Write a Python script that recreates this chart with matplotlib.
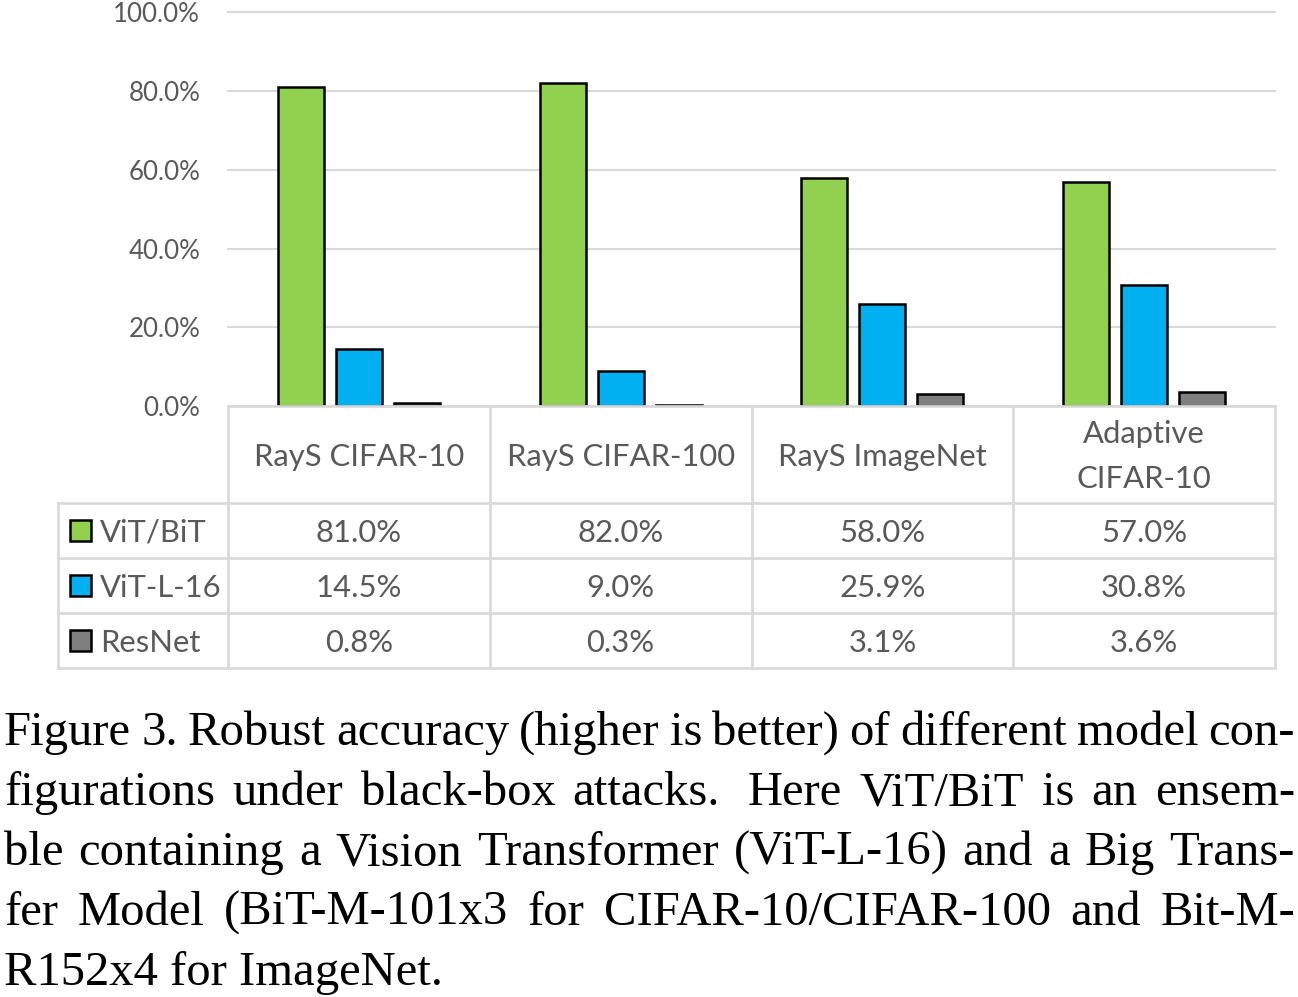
import matplotlib
matplotlib.use("Agg")
import matplotlib.pyplot as plt
from matplotlib.patches import Rectangle
import numpy as np

# ---------------- data ----------------
categories = ["RayS CIFAR-10", "RayS CIFAR-100", "RayS ImageNet", "Adaptive\nCIFAR-10"]
series_names = ["ViT/BiT", "ViT-L-16", "ResNet"]
vit_bit = [81.0, 82.0, 58.0, 57.0]
vit_l16 = [14.5, 9.0, 25.9, 30.8]
resnet = [0.8, 0.3, 3.1, 3.6]
series_values = [vit_bit, vit_l16, resnet]
series_colors = ["#92D050", "#00B0F0", "#7F7F7F"]
yticks = [0, 20, 40, 60, 80, 100]
ytick_labels = ["%.1f%%" % v for v in yticks]
caption_lines = [
    "Figure 3. Robust accuracy (higher is better) of different model con-",
    "figurations under black-box attacks.  Here ViT/BiT is an ensem-",
    "ble containing a Vision Transformer (ViT-L-16) and a Big Trans-",
    "fer Model (BiT-M-101x3 for CIFAR-10/CIFAR-100 and Bit-M-",
    "R152x4 for ImageNet.",
]

# ---------------- layout ----------------
W, H = 1298, 997
fig = plt.figure(figsize=(W / 100, H / 100), dpi=100)
fig.patch.set_facecolor("white")
SANS = ["Lato", "DejaVu Sans"]
SERIF = ["Liberation Serif", "DejaVu Serif"]
TXT = "#595959"
GRID = "#D9D9D9"

renderer = fig.canvas.get_renderer()


def width_px(s, size, family):
    t = fig.text(0, 0, s, fontsize=size, family=family)
    w = t.get_window_extent(renderer).width
    t.remove()
    return w


tick_fs = 20 * 87 / width_px("100.0%", 20, SANS)
table_fs = 20 * 210 / width_px("RayS CIFAR-10", 20, SANS)
cap_fs = 35

def fx(x):
    return x / W


def fy(y):
    return 1 - y / H


left, right, top, bottom = 228, 1275, 12.5, 406
ax = fig.add_axes([fx(left), fy(bottom), (right - left) / W, (bottom - top) / H])
ax.set_xlim(-0.5, len(categories) - 0.5)
ax.set_ylim(0, 100)
x = np.arange(len(categories))
offsets = [-0.2216, 0.0, 0.2216]
for vals, off, col in zip(series_values, offsets, series_colors):
    ax.bar(x + off, vals, width=0.176, color=col, edgecolor="black",
           linewidth=1.8, zorder=3)
ax.set_yticks(yticks)
ax.set_yticklabels(ytick_labels, fontsize=tick_fs, family=SANS, color=TXT)
for lab in ax.get_yticklabels():
    lab.set_va("center_baseline")
ax.tick_params(axis="y", length=0, pad=20)
ax.set_xticks([])
ax.yaxis.grid(True, color=GRID, linewidth=1.5)
for gl in ax.get_ygridlines():
    gl.set_clip_on(False)
ax.set_axisbelow(True)
for s in ax.spines.values():
    s.set_visible(False)

# ---------------- data table ----------------
tab = fig.add_axes([0, 0, 1, 1], zorder=5)
tab.set_xlim(0, W)
tab.set_ylim(H, 0)
tab.axis("off")
tab.patch.set_alpha(0)

fig.canvas.draw()
col_edges = [ax.transData.transform((i - 0.5, 0))[0] for i in range(len(categories) + 1)]
col_centers = [ax.transData.transform((i, 0))[0] for i in range(len(categories))]
leg_left = 58
row_edges = [406, 503, 558, 613, 668]
lw_t = 1.95
# horizontal lines
tab.plot([col_edges[0], col_edges[-1]], [row_edges[0]] * 2, color=GRID, lw=lw_t, solid_capstyle="projecting")
for ry in row_edges[1:]:
    tab.plot([leg_left, col_edges[-1]], [ry, ry], color=GRID, lw=lw_t, solid_capstyle="projecting")
# vertical lines
for cx in col_edges:
    tab.plot([cx, cx], [row_edges[0], row_edges[-1]], color=GRID, lw=lw_t, solid_capstyle="projecting")
tab.plot([leg_left, leg_left], [row_edges[1], row_edges[-1]], color=GRID, lw=lw_t, solid_capstyle="projecting")

# header
for cx, cat in zip(col_centers, categories):
    if "\n" in cat:
        l1, l2 = cat.split("\n")
        tab.text(cx, 443, l1, ha="center", va="baseline", fontsize=table_fs, family=SANS, color=TXT)
        tab.text(cx, 488, l2, ha="center", va="baseline", fontsize=table_fs, family=SANS, color=TXT)
    else:
        tab.text(cx, 466, cat, ha="center", va="baseline", fontsize=table_fs, family=SANS, color=TXT)

# rows
for r, (name, vals, col) in enumerate(zip(series_names, series_values, series_colors)):
    yc = (row_edges[r + 1] + row_edges[r + 2]) / 2
    tab.add_patch(Rectangle((70, yc - 11), 21, 21, facecolor=col, edgecolor="black", lw=1.8))
    tab.text(100, yc + 11, name, ha="left", va="baseline", fontsize=table_fs, family=SANS, color=TXT)
    for cx, v in zip(col_centers, vals):
        tab.text(cx, yc + 11, "%.1f%%" % v, ha="center", va="baseline", fontsize=table_fs, family=SANS, color=TXT)

# ---------------- caption (justified) ----------------
cap_left, cap_right = 4, 1295
baselines = [745, 805, 865, 925, 985]
for i, (line, by) in enumerate(zip(caption_lines, baselines)):
    if i == len(caption_lines) - 1:
        tab.text(cap_left, by, line, ha="left", va="baseline", fontsize=cap_fs, family=SERIF, color="black")
        continue
    parts = line.split(" ")
    words, weights = [], []
    for p in parts:
        if p == "":
            weights[-1] += 0.6
            continue
        words.append(p)
        weights.append(1.0)
    weights = weights[:-1]
    widths = [width_px(w, cap_fs, SERIF) for w in words]
    gap_unit = (cap_right - cap_left - sum(widths)) / sum(weights)
    xpos = cap_left
    for j, (w, wd) in enumerate(zip(words, widths)):
        tab.text(xpos, by, w, ha="left", va="baseline", fontsize=cap_fs, family=SERIF, color="black")
        if j < len(weights):
            xpos += wd + gap_unit * weights[j]

fig.savefig("out.png", dpi=100, facecolor="white")
